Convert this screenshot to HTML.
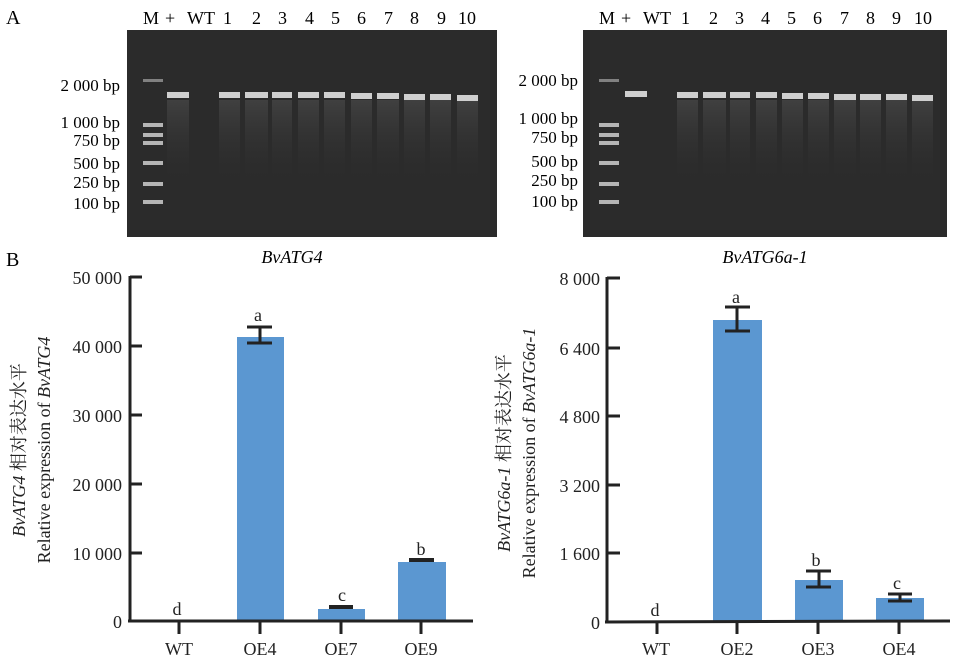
<!DOCTYPE html>
<html><head><meta charset="utf-8"><style>
html,body{margin:0;padding:0;background:#fff}
svg{display:block;font-family:"Liberation Serif","Noto Serif CJK SC",serif}
</style></head><body>
<svg width="957" height="668" viewBox="0 0 957 668" xmlns="http://www.w3.org/2000/svg">
<defs>
<linearGradient id="smear" x1="0" y1="0" x2="0" y2="1">
<stop offset="0" stop-color="#555" stop-opacity="0.5"/><stop offset="1" stop-color="#333" stop-opacity="0"/>
</linearGradient>
</defs>
<text x="6" y="24" font-size="20">A</text>
<text x="6" y="266" font-size="20">B</text>

<!-- Left gel -->
<g font-size="18">
<rect x="127" y="30" width="370" height="207" fill="#2b2b2b"/>
<g fill="#d8d8d8">
<rect x="143" y="79" width="20" height="3" opacity="0.5"/>
<rect x="143" y="123" width="20" height="4" opacity="0.8"/>
<rect x="143" y="133" width="20" height="4" opacity="0.8"/>
<rect x="143" y="141" width="20" height="4" opacity="0.8"/>
<rect x="143" y="161" width="20" height="4" opacity="0.8"/>
<rect x="143" y="182" width="20" height="4" opacity="0.8"/>
<rect x="143" y="200" width="20" height="4" opacity="0.8"/>
</g>
<g fill="url(#smear)">
<rect x="167" y="100" width="22" height="80"/><rect x="219" y="100" width="21" height="80"/><rect x="245" y="100" width="23" height="80"/><rect x="272" y="100" width="20" height="80"/><rect x="298" y="100" width="21" height="80"/><rect x="324" y="100" width="21" height="80"/><rect x="351" y="100" width="21" height="80"/><rect x="377" y="100" width="22" height="80"/><rect x="404" y="100" width="21" height="80"/><rect x="430" y="100" width="21" height="80"/><rect x="457" y="100" width="21" height="80"/>
</g>
<g fill="#cfcfcf">
<rect x="167" y="92" width="22" height="6"/><rect x="219" y="92" width="21" height="6"/><rect x="245" y="92" width="23" height="6"/><rect x="272" y="92" width="20" height="6"/><rect x="298" y="92" width="21" height="6"/><rect x="324" y="92" width="21" height="6"/><rect x="351" y="93" width="21" height="6"/><rect x="377" y="93" width="22" height="6"/><rect x="404" y="94" width="21" height="6"/><rect x="430" y="94" width="21" height="6"/><rect x="457" y="95" width="21" height="6"/>
</g>
<text x="143" y="24">M</text><text x="165" y="24">+</text><text x="187" y="24">WT</text>
<text x="223" y="24">1</text><text x="252" y="24">2</text><text x="278" y="24">3</text><text x="305" y="24">4</text><text x="331" y="24">5</text><text x="357" y="24">6</text><text x="384" y="24">7</text><text x="410" y="24">8</text><text x="437" y="24">9</text><text x="458" y="24">10</text>
<g text-anchor="end" font-size="17">
<text x="120" y="91">2 000 bp</text><text x="120" y="128">1 000 bp</text><text x="120" y="146">750 bp</text><text x="120" y="169">500 bp</text><text x="120" y="188">250 bp</text><text x="120" y="209">100 bp</text>
</g>
<text x="292" y="263" font-style="italic" text-anchor="middle">BvATG4</text>
</g>

<!-- Right gel -->
<g font-size="18">
<rect x="583" y="30" width="364" height="207" fill="#2b2b2b"/>
<g fill="#d8d8d8">
<rect x="599" y="79" width="20" height="3" opacity="0.5"/>
<rect x="599" y="123" width="20" height="4" opacity="0.8"/>
<rect x="599" y="133" width="20" height="4" opacity="0.8"/>
<rect x="599" y="141" width="20" height="4" opacity="0.8"/>
<rect x="599" y="161" width="20" height="4" opacity="0.8"/>
<rect x="599" y="182" width="20" height="4" opacity="0.8"/>
<rect x="599" y="200" width="20" height="4" opacity="0.8"/>
</g>
<g fill="url(#smear)">
<rect x="677" y="100" width="21" height="80"/><rect x="703" y="100" width="23" height="80"/><rect x="730" y="100" width="20" height="80"/><rect x="756" y="100" width="21" height="80"/><rect x="782" y="100" width="21" height="80"/><rect x="808" y="100" width="21" height="80"/><rect x="834" y="100" width="22" height="80"/><rect x="860" y="100" width="21" height="80"/><rect x="886" y="100" width="21" height="80"/><rect x="912" y="100" width="21" height="80"/>
</g>
<g fill="#cfcfcf">
<rect x="625" y="91" width="22" height="6"/><rect x="677" y="92" width="21" height="6"/><rect x="703" y="92" width="23" height="6"/><rect x="730" y="92" width="20" height="6"/><rect x="756" y="92" width="21" height="6"/><rect x="782" y="93" width="21" height="6"/><rect x="808" y="93" width="21" height="6"/><rect x="834" y="94" width="22" height="6"/><rect x="860" y="94" width="21" height="6"/><rect x="886" y="94" width="21" height="6"/><rect x="912" y="95" width="21" height="6"/>
</g>
<text x="599" y="24">M</text><text x="621" y="24">+</text><text x="643" y="24">WT</text>
<text x="681" y="24">1</text><text x="709" y="24">2</text><text x="735" y="24">3</text><text x="761" y="24">4</text><text x="787" y="24">5</text><text x="813" y="24">6</text><text x="840" y="24">7</text><text x="866" y="24">8</text><text x="892" y="24">9</text><text x="914" y="24">10</text>
<g text-anchor="end" font-size="17">
<text x="578" y="86">2 000 bp</text><text x="578" y="124">1 000 bp</text><text x="578" y="143">750 bp</text><text x="578" y="167">500 bp</text><text x="578" y="186">250 bp</text><text x="578" y="207">100 bp</text>
</g>
<text x="765" y="263" font-style="italic" text-anchor="middle">BvATG6a-1</text>
</g>

<!-- Left chart -->
<g font-size="18" fill="#222">
<rect x="237" y="337" width="47" height="284" fill="#5b97d1"/>
<rect x="318" y="609" width="47" height="12" fill="#5b97d1"/>
<rect x="398" y="562" width="48" height="59" fill="#5b97d1"/>
<g stroke="#222" stroke-width="3" fill="none">
<path d="M130 276V622M128 621H473"/>
<path d="M130 277H142M130 346H142M130 415H142M130 484H142M130 553H142"/>
<path d="M179 621V634M260 621V634M341 621V634M421 621V634"/>
<path d="M260 327V343M247 327H272M247 343H272"/>
<path d="M329 607H353" stroke-width="4"/>
<path d="M409 560H434" stroke-width="4"/>
</g>
<g text-anchor="end"><text x="122" y="284">50 000</text><text x="122" y="353">40 000</text><text x="122" y="422">30 000</text><text x="122" y="491">20 000</text><text x="122" y="560">10 000</text><text x="122" y="628">0</text></g>
<g text-anchor="middle"><text x="179" y="655">WT</text><text x="260" y="655">OE4</text><text x="341" y="655">OE7</text><text x="421" y="655">OE9</text>
<text x="177" y="615">d</text><text x="258" y="321">a</text><text x="342" y="601">c</text><text x="421" y="555">b</text></g>
<text transform="translate(25,450) rotate(-90)" text-anchor="middle"><tspan font-style="italic">BvATG4</tspan> 相对表达水平</text>
<text transform="translate(50,450) rotate(-90)" text-anchor="middle">Relative expression of <tspan font-style="italic">BvATG4</tspan></text>
</g>

<!-- Right chart -->
<g font-size="18" fill="#222">
<rect x="713" y="320" width="49" height="301" fill="#5b97d1"/>
<rect x="795" y="580" width="48" height="41" fill="#5b97d1"/>
<rect x="876" y="598" width="48" height="23" fill="#5b97d1"/>
<g stroke="#222" stroke-width="3" fill="none">
<path d="M607 277V622M605 622L950 621"/>
<path d="M607 278H620M607 348H620M607 416H620M607 485H620M607 553H620"/>
<path d="M657 622V634M737 622V634M818 622V634M899 622V634"/>
<path d="M737 307V331M725 307H750M725 331H750"/>
<path d="M819 571V587M806 571H831M806 587H831"/>
<path d="M900 594V601M888 594H912M888 601H912"/>
</g>
<g text-anchor="end"><text x="600" y="285">8 000</text><text x="600" y="355">6 400</text><text x="600" y="423">4 800</text><text x="600" y="492">3 200</text><text x="600" y="560">1 600</text><text x="600" y="629">0</text></g>
<g text-anchor="middle"><text x="656" y="655">WT</text><text x="737" y="655">OE2</text><text x="818" y="655">OE3</text><text x="899" y="655">OE4</text>
<text x="655" y="616">d</text><text x="736" y="303">a</text><text x="816" y="566">b</text><text x="897" y="589">c</text></g>
<text transform="translate(510,453) rotate(-90)" text-anchor="middle"><tspan font-style="italic">BvATG6a-1</tspan> 相对表达水平</text>
<text transform="translate(535,453) rotate(-90)" text-anchor="middle">Relative expression of <tspan font-style="italic">BvATG6a-1</tspan></text>
</g>
</svg>
</body></html>
